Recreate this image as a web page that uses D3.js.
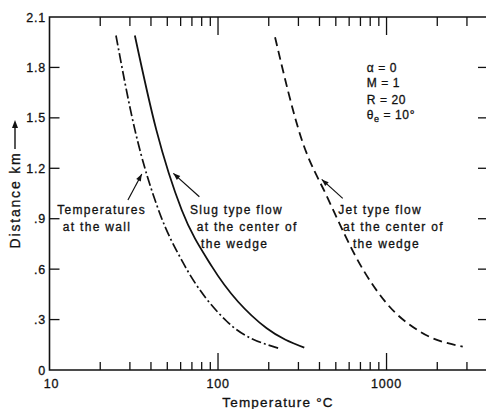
<!DOCTYPE html>
<html>
<head>
<meta charset="utf-8">
<script src="https://cdn.jsdelivr.net/npm/d3@7"></script>
<style>
  html, body { margin: 0; padding: 0; background: #fff; }
  svg { display: block; }
  text { font-family: "Liberation Sans", Arial, sans-serif; fill: #111; stroke: #111; stroke-width: 0.3px; }
</style>
</head>
<body>
<svg id="chart" width="486" height="409"></svg>
<script>
// ---- data ----
const wallT = [24.8, 32.1, 44.8, 61.9, 112.6, 228];
const wallD = [1.99, 1.43, 0.94, 0.64, 0.29, 0.13];

const slugT = [32.1, 43, 60.9, 92.1, 194.5, 325];
const slugD = [1.99, 1.43, 0.952, 0.615, 0.248, 0.133];

const jetT = [218, 314, 444, 728, 1000, 1580, 2832];
const jetD = [1.98, 1.37, 1.03, 0.595, 0.397, 0.228, 0.139];

const yTickValues = [0, 0.3, 0.6, 0.9, 1.2, 1.5, 1.8, 2.1];
const yTickLabels = ["0", ".3", ".6", ".9", "1.2", "1.5", "1.8", "2.1"];
const xMajorTicks = [10, 100, 1000];
const xMajorLabels = ["10", "100", "1000"];
const xMinorTicks = [20, 30, 40, 50, 60, 70, 80, 90, 200, 300, 400, 500, 600, 700, 800, 900, 2000, 3000];

const paramLines = ["\u03B1 = 0", "M = 1", "R = 20"];

// ---- scales ----
const svg = d3.select("#chart");
const x = d3.scaleLog().domain([10, 4000]).range([49.5, 488]);
const y = d3.scaleLinear().domain([0, 2.1]).range([370, 17]);

const X0 = x.range()[0], X1 = x.range()[1], Y0 = y.range()[0], Y1 = y.range()[1];

// ---- frame ----
const frame = svg.append("g").attr("stroke", "#111").attr("stroke-width", 1.6).attr("fill", "none");
frame.append("path").attr("d", `M${X0},${Y1}V${Y0}H${X1}V${Y1}Z`);

// ---- ticks (inside) ----
const tk = svg.append("g").attr("stroke", "#111").attr("stroke-width", 1.3);
yTickValues.forEach(v => {
  if (v === 0 || v === 2.1) return;
  tk.append("line").attr("x1", X0).attr("x2", X0 + 10).attr("y1", y(v)).attr("y2", y(v));
  tk.append("line").attr("x1", X1).attr("x2", X1 - 10).attr("y1", y(v)).attr("y2", y(v));
});
xMinorTicks.forEach(v => {
  tk.append("line").attr("x1", x(v)).attr("x2", x(v)).attr("y1", Y0).attr("y2", Y0 - 8);
  tk.append("line").attr("x1", x(v)).attr("x2", x(v)).attr("y1", Y1).attr("y2", Y1 + 9);
});
xMajorTicks.forEach(v => {
  if (v === 10) return;
  tk.append("line").attr("x1", x(v)).attr("x2", x(v)).attr("y1", Y0).attr("y2", Y0 - 17);
  tk.append("line").attr("x1", x(v)).attr("x2", x(v)).attr("y1", Y1).attr("y2", Y1 + 18);
});

// ---- tick labels ----
const lab = svg.append("g").attr("font-size", 12.5).attr("letter-spacing", 0.8);
yTickValues.forEach((v, i) => {
  lab.append("text").attr("x", 46).attr("y", y(v)).attr("dy", "0.36em")
    .attr("text-anchor", "end").text(yTickLabels[i]);
});
xMajorTicks.forEach((v, i) => {
  lab.append("text").attr("x", x(v) + (v === 10 ? 2 : 0)).attr("y", 383).attr("dy", "0.36em")
    .attr("text-anchor", "middle").text(xMajorLabels[i]);
});

// ---- axis titles ----
svg.append("text").attr("x", 278).attr("y", 402).attr("dy", "0.36em")
  .attr("text-anchor", "middle").attr("font-size", 13.5).attr("letter-spacing", 1.2)
  .text("Temperature \u00B0C");

const yt = svg.append("g").attr("transform", "translate(15,200) rotate(-90)");
yt.append("text").attr("x", 0).attr("y", 0).attr("dy", "0.36em")
  .attr("text-anchor", "middle").attr("font-size", 14).attr("letter-spacing", 1.8)
  .text("Distance  km");
yt.append("line").attr("x1", 51).attr("x2", 74).attr("y1", 0).attr("y2", 0)
  .attr("stroke", "#111").attr("stroke-width", 1.4);
yt.append("path").attr("d", "M80,0L72,-3L72,3Z").attr("fill", "#111");

// ---- curves ----
const line = d3.line().x(d => x(d[0])).y(d => y(d[1])).curve(d3.curveMonotoneX);
function series(T, D) { return T.map((t, i) => [t, D[i]]).sort((a, b) => a[0] - b[0]); }

svg.append("path").datum(series(wallT, wallD)).attr("d", line)
  .attr("fill", "none").attr("stroke", "#111").attr("stroke-width", 1.7)
  .attr("stroke-dasharray", "10,3,2,3");
svg.append("path").datum(series(slugT, slugD)).attr("d", line)
  .attr("fill", "none").attr("stroke", "#111").attr("stroke-width", 1.8);
svg.append("path").datum(series(jetT, jetD)).attr("d", line)
  .attr("fill", "none").attr("stroke", "#111").attr("stroke-width", 1.8)
  .attr("stroke-dasharray", "9,5");

// ---- annotations ----
const ann = svg.append("g").attr("font-size", 12).attr("letter-spacing", 1.3);
const notes = [
  { lines: [["Temperatures", 11.1, 0.952], ["at the wall", 12.0, 0.852]],
    arrow: [[29.2, 1.011], [35.3, 1.166]] },
  { lines: [["Slug type flow", 68.2, 0.952], ["at the center of", 74.7, 0.852], ["the wedge", 79.3, 0.753]],
    arrow: [[77.5, 1.031], [54.3, 1.170]] },
  { lines: [["Jet type flow", 517, 0.952], ["at the center of", 552, 0.852], ["the wedge", 632, 0.753]],
    arrow: [[549.6, 1.021], [412.5, 1.134]] }
];
notes.forEach(n => {
  n.lines.forEach(l => {
    ann.append("text").attr("x", x(l[1])).attr("y", y(l[2])).attr("dy", "0.36em").text(l[0]);
  });
  const [a, b] = n.arrow;
  const x1 = x(a[0]), y1 = y(a[1]), x2 = x(b[0]), y2 = y(b[1]);
  svg.append("line").attr("x1", x1).attr("y1", y1).attr("x2", x2).attr("y2", y2)
    .attr("stroke", "#111").attr("stroke-width", 1.2);
  const ang = Math.atan2(y2 - y1, x2 - x1) * 180 / Math.PI;
  svg.append("path").attr("d", "M0,0L-7,-2.6L-7,2.6Z").attr("fill", "#111")
    .attr("transform", `translate(${x2},${y2}) rotate(${ang})`);
});

// ---- parameters ----
const pg = svg.append("g").attr("font-size", 12).attr("letter-spacing", 0.6);
const pD = [1.798, 1.709, 1.610];
paramLines.forEach((s, i) => {
  pg.append("text").attr("x", x(763)).attr("y", y(pD[i])).attr("dy", "0.36em").text(s);
});
const th = pg.append("text").attr("x", x(763)).attr("y", y(1.517)).attr("dy", "0.36em");
th.append("tspan").text("\u03B8");
th.append("tspan").attr("font-size", 9).attr("dy", "3").text("e");
th.append("tspan").attr("dy", "-3").text(" = 10\u00B0");
</script>
</body>
</html>
